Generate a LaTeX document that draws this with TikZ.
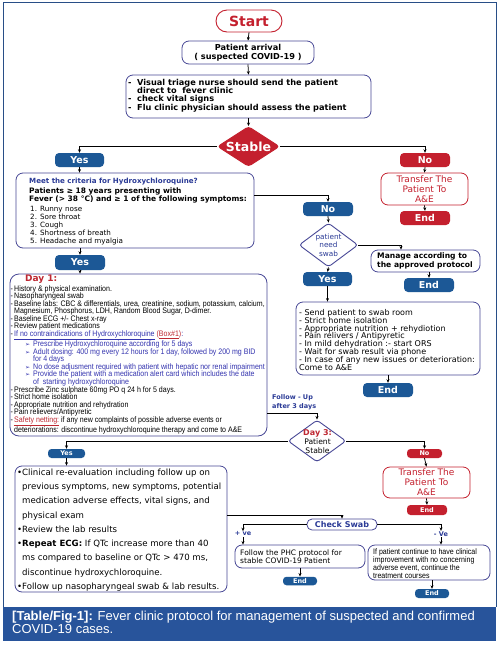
\documentclass[tikz,border=0pt]{standalone}
\usepackage{fontspec}
\setmainfont{DejaVu Sans}
\newfontfamily\arialf{Liberation Sans}
\newfontfamily\narrowf[FakeStretch=0.88]{Liberation Sans}
\newfontfamily\dejav{DejaVu Sans}
\usetikzlibrary{shapes.geometric,arrows.meta}
\newcommand\fsz[2]{\fontsize{#1}{#2}\selectfont}
\newcommand\arrowg{{\dejav\fsz{6}{6}➢}}
\definecolor{bfill}{RGB}{28,88,150}
\definecolor{rfill}{RGB}{196,32,46}
\definecolor{bord}{RGB}{72,72,150}
\definecolor{btxt}{RGB}{42,58,150}
\definecolor{subblue}{RGB}{52,52,175}
\definecolor{rtxt}{RGB}{190,40,50}
\definecolor{framec}{RGB}{40,78,135}
\definecolor{capb}{RGB}{40,84,155}
\begin{document}
\begin{tikzpicture}[x=1pt,y=-1pt,
 arr/.style={-{Stealth[length=3.5pt,width=3pt]},line width=0.75pt},
 ln/.style={line width=0.75pt},
 wh/.style 2 args={minimum width=#1pt,minimum height=#2pt},
 rbox/.style={draw=bord,line width=0.8pt,rounded corners=7pt,fill=white,inner sep=0pt},
 bpill/.style={fill=bfill,rounded corners=4pt,text=white,inner sep=0pt,font=\bfseries\fsz{9.5}{10}},
 rpill/.style={fill=rfill,rounded corners=4pt,text=white,inner sep=0pt,font=\bfseries\fsz{9.5}{10}},
 spill/.style={fill=bfill,rounded corners=3.5pt,text=white,inner sep=0pt,font=\bfseries\fsz{6.5}{7}},
 srpill/.style={fill=rfill,rounded corners=3.5pt,text=white,inner sep=0pt,font=\bfseries\fsz{6.5}{7}},
 tbox/.style={draw=rfill,line width=0.8pt,rounded corners=7pt,fill=white,inner sep=0pt,text=rfill,align=center,font=\fsz{9}{10}},
 txt/.style={inner sep=0pt,align=left},
 dia/.style={diamond,draw=bord,line width=0.9pt,fill=white,rounded corners=3pt,inner sep=0pt},
]
\useasboundingbox (0,0) rectangle (499,646);
\fill[white] (0,0) rectangle (499,646);
\draw[framec,line width=0.8pt] (3,607) -- (3,2) -- (496,2) -- (496,607);
\fill[capb] (3,607) rectangle (496,641);
\node[txt,anchor=north west,text=white,font=\arialf\fsz{13}{12.4}] (cap) at (12,611.3)
 {{\bfseries [Table/Fig-1]:} Fever clinic protocol for management of suspected and confirmed\\COVID-19 cases.};

% top
\node[draw=rfill,line width=0.9pt,rounded corners=11pt,wh={66}{22},fill=white,text=rfill,inner sep=0pt,font=\bfseries\fsz{14}{14}] (start) at (249,21) {Start};
\node[rbox,wh={132}{23},align=center,font=\bfseries\fsz{8.2}{8.5}] (pa) at (248,52.5) {Patient arrival\\( suspected COVID-19 )};
\node[rbox,wh={245}{43}] (tri) at (248.5,96.5) {};
\node[txt,anchor=north west,font=\bfseries\fsz{8.2}{8.3}] (tritxt) at (128,78.9)
 {\makebox[9pt][l]{-}Visual triage nurse should send the patient\\
  \hspace*{9pt}direct to \ fever clinic\\
  \makebox[9pt][l]{-}check vital signs\\
  \makebox[9pt][l]{-}Flu clinic physician should assess the patient};
\node[dia,fill=rfill,draw=rfill,wh={62}{40}] (stable) at (248.5,146.5) {};
\node[inner sep=0pt,text=white,font=\bfseries\fsz{12.5}{13}] (stabletxt) at (stable.center) {Stable};

% right red branch
\node[rpill,wh={50}{14}] (no1) at (425,160) {No};
\node[tbox,wh={87}{32}] (tr1) at (424.5,189) {Transfer The\\Patient To\\A\&E};
\node[rpill,wh={50}{14}] (end1) at (425,218) {End};

% criteria
\node[bpill,wh={49}{14}] (yes1) at (79.5,160) {Yes};
\node[rbox,wh={238}{75}] (crit) at (135,210.5) {};
\node[txt,anchor=west,text=btxt,font=\bfseries\fsz{7.1}{8}] (crita) at (29,182) {Meet the criteria for Hydroxychloroquine?};
\node[txt,anchor=north west,font=\bfseries\fsz{7.5}{8}] (critb) at (29,187.3) {Patients ≥ 18 years presenting with\\Fever (> 38 °C) and ≥ 1 of the following symptoms:};
\node[txt,anchor=north west,font=\fsz{7.2}{8}] (critc) at (30,206.4) {1. Runny nose\\2. Sore throat\\3. Cough\\4. Shortness of breath\\5. Headache and myalgia};
\coordinate (c1) at (254,195);

% no branch
\node[bpill,wh={50}{14}] (no2) at (328,209) {No};
\node[dia,wh={59}{44}] (swabq) at (328.5,245) {};
\node[inner sep=0pt,align=center,text=btxt,font=\fsz{7.3}{8.3}] (swabqtxt) at (swabq.center) {patient\\need\\swab};
\node[rbox,wh={109}{22}] (manage) at (425.5,261) {};
\node[txt,anchor=north west,font=\bfseries\fsz{7.6}{8.3}] (managetxt) at (377,253) {Manage according to\\the approved protocol};
\node[bpill,wh={50}{14}] (end2) at (429,285) {End};
\node[bpill,wh={49}{14}] (yes2) at (327.5,279) {Yes};
\node[rbox,wh={184}{73}] (swabbox) at (388,338.5) {};
\node[txt,anchor=north west,font=\fsz{8}{7.9}] (swabtxt) at (299,309)
 {- Send patient to swab room\\- Strict home isolation\\- Appropriate nutrition + rehydiotion\\- Pain relivers / Antipyretic\\- In mild dehydration :- start ORS\\- Wait for swab result via phone\\- In case of any new issues or deterioration:\\Come to A\&E};
\node[bpill,wh={50}{14}] (end3) at (388,390) {End};

% day 1
\node[bpill,wh={50}{15}] (yes3) at (80,262.5) {Yes};
\node[rbox,wh={257}{162},rounded corners=9pt] (day1) at (138.5,355) {};
\node[txt,anchor=west,text=rtxt,font=\bfseries\fsz{9}{9}] (day1h) at (25,279.5) {Day 1:};
\node[txt,anchor=north west,font=\narrowf\fsz{8}{7.55}] (day1txt) at (10.5,285)
 {\makebox[3.5pt][l]{-}History \& physical examination.\\
  \makebox[3.5pt][l]{-}Nasopharyngeal swab\\
  \makebox[3.5pt][l]{-}Baseline labs: CBC \& differentials, urea, creatinine, sodium, potassium, calcium,\\
  \hspace*{3.5pt}Magnesium, Phosphorus, LDH, Random Blood Sugar, D-dimer.\\
  \makebox[3.5pt][l]{-}Baseline ECG +/- Chest x-ray\\
  \makebox[3.5pt][l]{-}Review patient medications\\
  \makebox[3.5pt][l]{-}{\color{subblue}\underline{If no contraindications of Hydroxychloroquine}} {\color{rtxt}(\underline{Box\#1})}{\color{subblue}:}\\
  {\color{subblue}\hspace*{14.5pt}\makebox[8pt][l]{\arrowg}Prescribe Hydroxychloroquine according for 5 days}\\
  {\color{subblue}\hspace*{14.5pt}\makebox[8pt][l]{\arrowg}Adult dosing: 400 mg every 12 hours for 1 day, followed by 200 mg BID}\\
  {\color{subblue}\hspace*{22.5pt}for 4 days}\\
  {\color{subblue}\hspace*{14.5pt}\makebox[8pt][l]{\arrowg}No dose adjusment required with patient with hepatic nor renal impairment}\\
  {\color{subblue}\hspace*{14.5pt}\makebox[8pt][l]{\arrowg}Provide the patient with a medication alert card which includes the date}\\
  {\color{subblue}\hspace*{22.5pt}of \ starting hydroxychloroquine}\\
  \makebox[3.5pt][l]{-}Prescribe Zinc sulphate 60mg PO q 24 h for 5 days.\\
  \makebox[3.5pt][l]{-}Strict home isolation\\
  \makebox[3.5pt][l]{-}Appropriate nutrition and rehydration\\
  \makebox[3.5pt][l]{-}Pain relievers/Antipyretic\\
  \makebox[3.5pt][l]{-}{\color{rtxt}\underline{Safety netting:}} if any new complaints of possible adverse events or\\
  \hspace*{3.5pt}deteriorations: discontinue hydroxychloroquine therapy and come to A\&E};
\coordinate (c2) at (267,413);
\node[txt,anchor=north west,text=btxt,font=\bfseries\fsz{6.5}{8.5}] (follow) at (272,394.8) {Follow - Up\\after 3 days};

% day 3
\node[dia,wh={58}{42}] (day3) at (317,441) {};
\node[inner sep=0pt,align=center,font=\fsz{7.6}{9}] (day3txt) at (317.5,442) {{\color{rtxt}\bfseries\fsz{8}{9}Day 3:}\\Patient\\Stable};
\node[spill,wh={37}{9}] (yes4) at (66.5,453.5) {Yes};
\node[rbox,wh={212}{126}] (clin) at (121,529) {};
\node[txt,anchor=north west,font=\fsz{8.6}{14.25}] (clintxt) at (17,468.6)
 {\makebox[5pt][l]{•}Clinical re-evaluation including follow up on\\
  \hspace*{5pt}previous symptoms, new symptoms, potential\\
  \hspace*{5pt}medication adverse effects, vital signs, and\\
  \hspace*{5pt}physical exam\\
  \makebox[5pt][l]{•}Review the lab results\\
  \makebox[5pt][l]{•}\textbf{Repeat ECG:} If QTc increase more than 40\\
  \hspace*{5pt}ms compared to baseline or QTc > 470 ms,\\
  \hspace*{5pt}discontinue hydroxychloroquine.\\
  \makebox[5pt][l]{•}Follow up nasopharyngeal swab \& lab results.};
\node[srpill,wh={35}{9}] (no4) at (424.5,453.5) {No};
\node[tbox,wh={87}{31}] (tr2) at (426.5,482.5) {Transfer The\\Patient To\\A\&E};
\node[srpill,wh={40}{10}] (end4) at (427,510) {End};

% check swab
\coordinate (c3) at (227,515);
\node[rbox,wh={70}{11},rounded corners=5pt,text=btxt,font=\bfseries\fsz{8}{8}] (cs) at (342,524.5) {Check Swab};
\node[inner sep=0.5pt,text=btxt,font=\bfseries\fsz{6.5}{7}] (pos) at (243,534) {+ ve};
\node[inner sep=0.5pt,text=btxt,font=\bfseries\fsz{6.5}{7}] (neg) at (441,534) {- Ve};
\node[rbox,wh={130}{23}] (phc) at (300,556.5) {};
\node[txt,anchor=north west,font=\fsz{7.5}{8.5}] (phctxt) at (240,549.3) {Follow the PHC protocol for\\stable COVID-19 Patient};
\node[spill,wh={34}{8.5}] (end5) at (300,581) {End};
\node[rbox,wh={122}{35}] (rb) at (429,562.5) {};
\node[txt,anchor=north west,font=\narrowf\fsz{8}{8}] (rbtxt) at (373,548) {If patient continue to have clinical\\improvement with no concerning\\adverse event, continue the\\treatment courses};
\node[spill,wh={34}{9}] (end6) at (432,593.5) {End};

% connectors
\draw[arr] (start.south) -- (pa.north);
\draw[arr] (pa.south) -- (tri.north);
\draw[arr] (tri.south) -- (stable.north);
\draw[arr] (stable.west) -| (yes1.north);
\draw[arr] (stable.east) -| (no1.north);
\draw[arr] (no1.south) -- (tr1.north);
\draw[arr] (tr1.south) -- (end1.north);
\draw[arr] (yes1.south) -- (yes1.south |- crit.north);
\draw[arr] (c1) -| (no2.north);
\draw[arr] (no2.south) -- (swabq.north);
\draw[arr] (swabq.east) -| ([xshift=-24.5pt]manage.north);
\draw[arr] (end2.north |- manage.south) -- (end2.north);
\draw[arr] (swabq.south) -- (yes2.north);
\draw[arr] (yes2.south) -- (yes2.south |- swabbox.north);
\draw[arr] (swabbox.south) -- (end3.north);
\draw[arr] (yes3.north |- crit.south) -- (yes3.north);
\draw[arr] (yes3.south) -- (yes3.south |- day1.north);
\draw[arr] (c2) -| (day3.north);
\draw[arr] (day3.west) -| (yes4.north);
\draw[arr] (yes4.south) -- (yes4.south |- clin.north);
\draw[arr] (day3.east) -| (no4.north);
\draw[arr] (no4.south) -- (tr2.north);
\draw[arr] (tr2.south) -- (end4.north);
\draw[arr] (c3) -| (cs.north);
\draw[arr] (cs.west) -| (pos.north);
\draw[arr] (pos.south) -- (pos.south |- phc.north);
\draw[arr] (cs.east) -| (neg.north);
\draw[arr] (neg.south) -- (neg.south |- rb.north);
\draw[arr] (end5.north |- phc.south) -- (end5.north);
\draw[arr] (end6.north |- rb.south) -- (end6.north);
\end{tikzpicture}
\end{document}
